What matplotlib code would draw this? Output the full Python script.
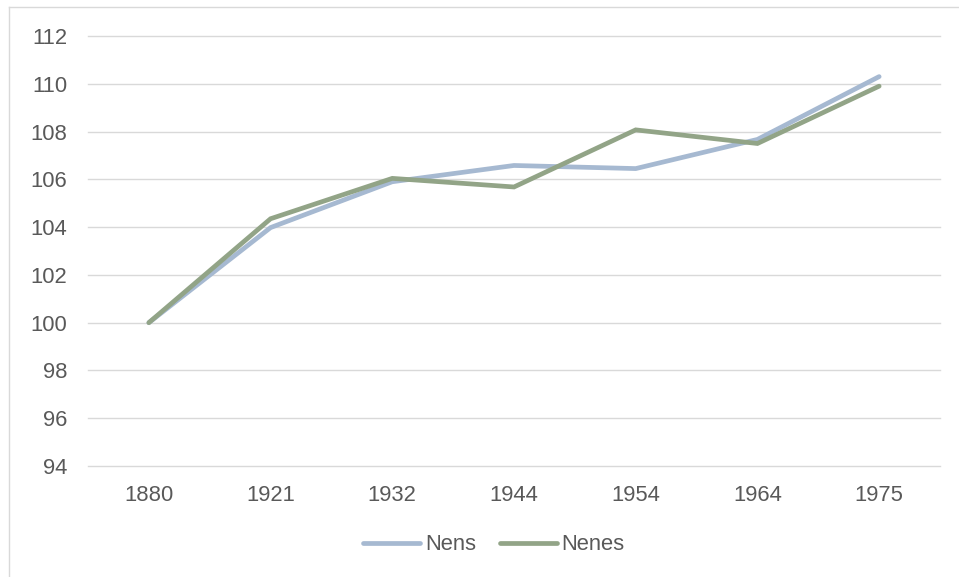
import matplotlib
matplotlib.use("Agg")
import matplotlib.pyplot as plt
from matplotlib.lines import Line2D

years = ["1880", "1921", "1932", "1944", "1954", "1964", "1975"]
nens = [100.0, 103.98, 105.9, 106.58, 106.45, 107.67, 110.3]
nenes = [100.0, 104.35, 106.04, 105.68, 108.07, 107.5, 109.9]
yticks = [94, 96, 98, 100, 102, 104, 106, 108, 110, 112]

plt.rcParams['font.family'] = ['Liberation Sans', 'DejaVu Sans']
W, H = 959, 577
fig = plt.figure(figsize=(W/100, H/100), dpi=100)
ax = fig.add_axes([88/W, 1-466/H, (940-88)/W, (466-36)/H])

x = list(range(len(years)))
ax.plot(x, nens, color='#a6b9d1', lw=3.4, label='Nens', solid_capstyle='round', solid_joinstyle='miter')
ax.plot(x, nenes, color='#92a487', lw=3.4, label='Nenes', solid_capstyle='round', solid_joinstyle='miter')

ax.set_xlim(-0.5, len(years)-0.5)
ax.set_ylim(94, 112)
ax.set_yticks(yticks)
ax.set_xticks(x)
ax.set_xticklabels(years)
ax.grid(axis='y', color='#d9d9d9', lw=1.0)
for gl in ax.get_ygridlines():
    gl.set_clip_on(False)
ax.set_axisbelow(True)
for s in ax.spines.values():
    s.set_visible(False)
ax.tick_params(axis='both', length=0, labelsize=15.8, colors='#595959')
ax.tick_params(axis='x', pad=14)
ax.tick_params(axis='y', pad=15)

leg = fig.legend(loc='center', bbox_to_anchor=(494/W, 1-545/H), ncol=2, frameon=False,
                 fontsize=15.8, handlelength=2.6, handletextpad=0.2, columnspacing=1.1,
                 labelcolor='#595959')
for h in leg.legend_handles:
    h.set_linewidth(3.4)

# outer border (top and left visible)
fig.add_artist(Line2D([9/W, 9/W], [0, 1-7/H], transform=fig.transFigure, color='#d9d9d9', lw=1.0))
fig.add_artist(Line2D([9/W, 1], [1-7/H, 1-7/H], transform=fig.transFigure, color='#d9d9d9', lw=1.0))

fig.savefig('out.png', dpi=100)
